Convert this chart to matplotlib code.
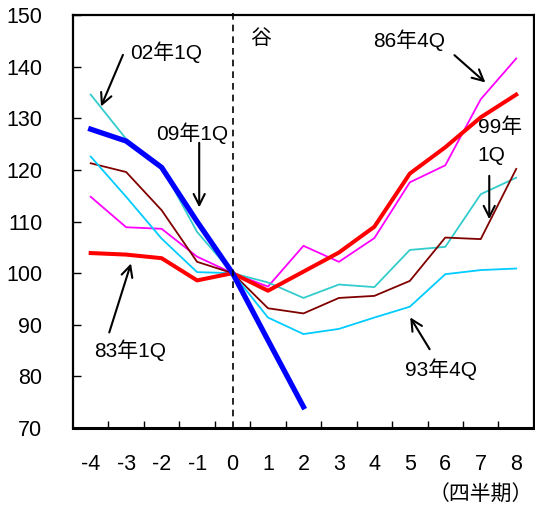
import matplotlib
matplotlib.use('Agg')
import matplotlib.pyplot as plt

plt.rcParams['font.family'] = ['Liberation Sans', 'Noto Sans CJK JP']

# quarters from the trough
quarters = [-4, -3, -2, -1, 0, 1, 2, 3, 4, 5, 6, 7, 8]
x_labels = ['-4', '-3', '-2', '-1', '0', '1', '2', '3', '4', '5', '6', '7', '8']

# index values (trough = 100)
s83_1q = [103.9, 103.6, 102.9, 98.6, 100, 96.6, 100.3, 104.0, 109.0, 119.3, 124.4, 130.2, 134.6]
s86_4q = [114.8, 108.9, 108.6, 103.2, 100, 97.4, 105.3, 102.2, 106.8, 117.6, 120.9, 133.7, 141.6]
s93_4q = [122.6, 114.8, 106.7, 100.2, 100, 91.4, 88.2, 89.2, 91.4, 93.5, 99.8, 100.6, 100.9]
s99_1q = [121.3, 119.6, 112.2, 102.2, 100, 93.2, 92.2, 95.2, 95.6, 98.5, 106.9, 106.6, 120.2]
s02_1q = [134.6, 126.0, 120.6, 108.0, 100, 98.2, 95.2, 97.8, 97.3, 104.5, 105.1, 115.3, 118.5]
s09_1q = [127.9, 125.6, 120.5, 110.0, 100, 87.0, 74.1]

fig = plt.figure(figsize=(5.35, 5.05), dpi=100)
ax = fig.add_axes([0.1364, 0.1525, 0.8616, 0.8175])

ax.plot(quarters, s86_4q, color='#ff00ff', lw=1.3)
ax.plot(quarters, s02_1q, color='#33cccc', lw=1.3)
ax.plot(quarters, s99_1q, color='#800000', lw=1.3)
ax.plot(quarters, s93_4q, color='#00ccff', lw=1.3)
ax.plot(quarters, s83_1q, color='#ff0000', lw=2.9)
ax.plot(quarters[:len(s09_1q)], s09_1q, color='#0000ff', lw=3.8)

# trough line
ax.plot([0, 0], [70, 151], color='black', lw=1.2, ls=(0, (4, 3)), clip_on=False)

ax.set_xlim(-4.5, 8.5)
ax.set_ylim(70, 150)
ax.set_xticks(quarters)
ax.set_xticklabels(x_labels)
ax.set_xticks([q + 0.5 for q in quarters[:-1]], minor=True)
ax.set_yticks(range(70, 151, 10))
ax.tick_params(axis='x', which='major', length=0, pad=19, labelsize=15.5)
ax.tick_params(axis='x', which='minor', direction='in', length=5, width=1)
ax.tick_params(axis='y', direction='in', length=6, width=1, pad=22, labelsize=15.5)
ax.tick_params(axis='y', which='minor', length=0)
for side in ['left', 'right', 'top']:
    ax.spines[side].set_linewidth(1.6)
ax.spines['bottom'].set_linewidth(2.2)

arrow = dict(arrowstyle='->', color='black', lw=1.5, mutation_scale=20)
fs = 15
ax.annotate('', xy=(-3.74, 131.8), xytext=(-3.06, 142.8), arrowprops=arrow)
ax.text(-2.89, 142.8, '02年1Q', fontsize=fs, va='center', ha='left')
ax.annotate('', xy=(-0.94, 112.2), xytext=(-0.94, 125.8), arrowprops=arrow)
ax.text(-2.15, 127.2, '09年1Q', fontsize=fs, va='center', ha='left')
ax.text(0.78, 145.5, '谷', fontsize=fs, va='center', ha='center')
ax.annotate('', xy=(7.19, 136.6), xytext=(6.2, 142.6), arrowprops=arrow)
ax.text(3.97, 145.2, '86年4Q', fontsize=fs, va='center', ha='left')
ax.text(6.91, 128.2, '99年', fontsize=fs, va='center', ha='left')
ax.text(6.91, 122.8, '1Q', fontsize=fs, va='center', ha='left')
ax.annotate('', xy=(7.24, 109.9), xytext=(7.24, 119.4), arrowprops=arrow)
ax.annotate('', xy=(-2.84, 102.4), xytext=(-3.5, 88.0), arrowprops=arrow)
ax.text(-3.91, 85.0, '83年1Q', fontsize=fs, va='center', ha='left')
ax.annotate('', xy=(4.97, 91.9), xytext=(5.6, 84.8), arrowprops=arrow)
ax.text(4.87, 81.3, '93年4Q', fontsize=fs, va='center', ha='left')

fig.text(0.996, 0.02, '（四半期）', fontsize=15, ha='right', va='center')

fig.savefig('out.png', dpi=100)
